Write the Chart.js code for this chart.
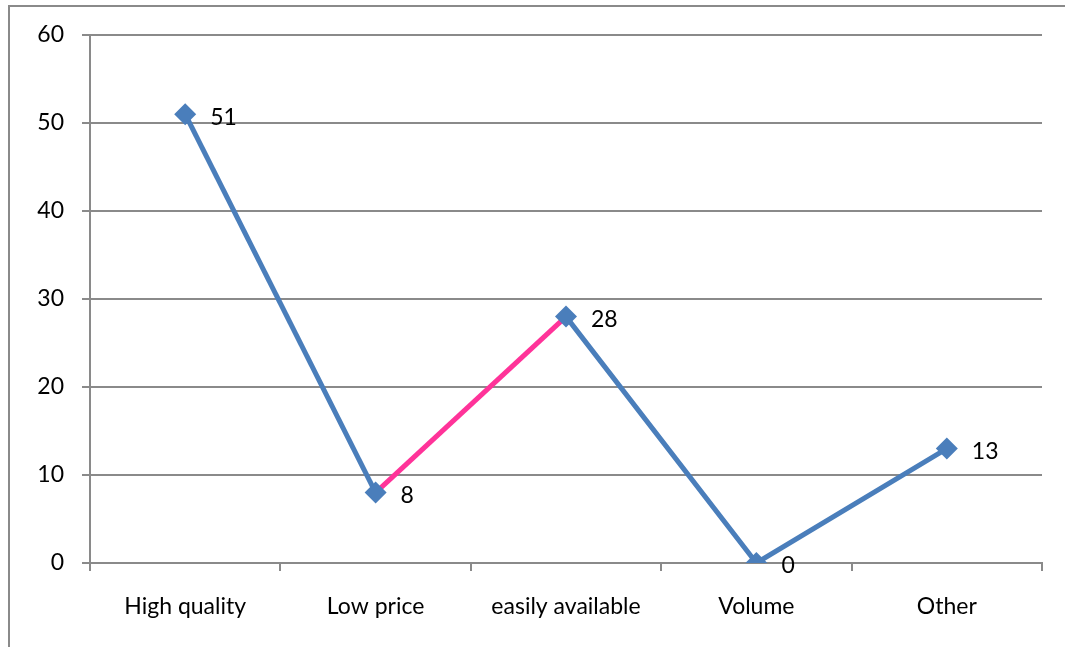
<!DOCTYPE html>
<html>
<head>
<meta charset="utf-8">
<script src="https://cdn.jsdelivr.net/npm/chart.js@4/dist/chart.umd.min.js"></script>
<style>
  html, body { margin: 0; padding: 0; background: #fff; overflow: hidden; }
  #wrap { position: relative; width: 1065px; height: 647px; }
  #frame { position: absolute; left: 8px; top: 5px; width: 1200px; height: 800px; border: 2px solid #8a8a8a; box-sizing: border-box; }
  canvas { position: absolute; left: 0; top: 0; }
</style>
</head>
<body>
<div id="wrap">
  <div id="frame"></div>
  <canvas id="c" width="1065" height="647"></canvas>
</div>
<script>
const categories = ["High quality", "Low price", "easily available", "Volume", "Other"];
const values = [51, 8, 28, 0, 13];
const yTicks = [0, 10, 20, 30, 40, 50, 60];

const BLUE = '#4A7EBB';
const PINK = '#FF3399';
const GRID = '#8a8a8a';
const FONT = 'Lato, "Open Sans", sans-serif';
const FSIZE = 23;

const labelPlugin = {
  id: 'pointLabels',
  afterDatasetsDraw(chart) {
    const ctx = chart.ctx;
    const meta = chart.getDatasetMeta(0);
    ctx.save();
    ctx.font = FSIZE + 'px ' + FONT;
    ctx.fillStyle = '#000';
    ctx.textAlign = 'left';
    ctx.textBaseline = 'middle';
    meta.data.forEach((pt, i) => {
      ctx.fillText(String(values[i]), pt.x + 25, pt.y + 3);
    });
    ctx.restore();
  }
};

new Chart(document.getElementById('c'), {
  type: 'line',
  data: {
    labels: categories,
    datasets: [{
      data: values,
      borderColor: BLUE,
      borderWidth: 5,
      pointStyle: 'rectRot',
      pointRadius: 11,
      pointHoverRadius: 11,
      pointBackgroundColor: BLUE,
      pointBorderColor: BLUE,
      pointBorderWidth: 0,
      tension: 0,
      segment: {
        borderColor: c => c.p0DataIndex === 1 ? PINK : BLUE
      }
    }]
  },
  options: {
    responsive: false,
    animation: false,
    devicePixelRatio: 1,
    layout: { padding: { top: 35, right: 23, left: 0, bottom: 0 } },
    plugins: { legend: { display: false }, tooltip: { enabled: false } },
    scales: {
      x: {
        offset: true,
        grid: { offset: true, drawOnChartArea: false, color: GRID, lineWidth: 2, tickLength: 8, tickColor: GRID },
        border: { color: GRID, width: 2 },
        ticks: { color: '#000', font: { family: FONT, size: FSIZE }, padding: 22, maxRotation: 0 },
        afterFit: s => { s.height = 84; }
      },
      y: {
        min: 0, max: 60,
        afterBuildTicks: s => { s.ticks = yTicks.map(v => ({ value: v })); },
        grid: { color: GRID, lineWidth: 2, tickLength: 8, tickColor: GRID },
        border: { color: GRID, width: 2 },
        ticks: { color: '#000', font: { family: FONT, size: FSIZE }, padding: 18 },
        afterFit: s => { s.width = 90; }
      }
    }
  },
  plugins: [labelPlugin]
});
</script>
</body>
</html>
